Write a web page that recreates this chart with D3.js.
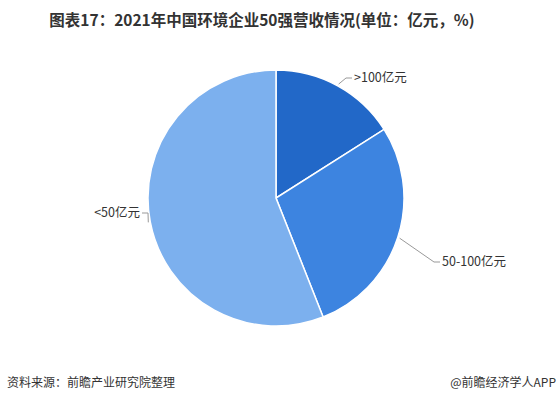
<!DOCTYPE html>
<html>
<head>
<meta charset="utf-8">
<script src="https://cdn.jsdelivr.net/npm/d3@7"></script>
<style>
  body { margin: 0; background: #fff; }
  text { font-family: "Noto Sans CJK SC", "Noto Sans", sans-serif; }
</style>
</head>
<body>
<div id="viz"></div>
<script>
const categories = ['>100亿元', '50-100亿元', '<50亿元'];
const values = [8, 14, 28];
const colors = ['#2268c8', '#3d84e0', '#7cb0ee'];

const width = 558, height = 405;
const cx = 276, cy = 198, radius = 128;

const svg = d3.select('#viz')
    .append('svg')
    .attr('width', width)
    .attr('height', height);

svg.append('text')
    .attr('x', 262)
    .attr('y', 26)
    .attr('text-anchor', 'middle')
    .style('font-size', '15.5px')
    .style('font-weight', 'bold')
    .style('fill', '#333')
    .text('图表17：2021年中国环境企业50强营收情况(单位：亿元，%)');

const data = categories.map((c, i) => ({name: c, value: values[i], color: colors[i]}));

const pie = d3.pie().sort(null).value(d => d.value);
const arc = d3.arc().innerRadius(0).outerRadius(radius);
const arcs = pie(data);

const g = svg.append('g').attr('transform', `translate(${cx},${cy})`);

g.selectAll('path')
    .data(arcs)
    .join('path')
    .attr('d', arc)
    .style('fill', d => d.data.color)
    .style('stroke', '#fff')
    .style('stroke-width', 1.5);

// leader lines + labels
const outer = d3.arc().innerRadius(radius + 2).outerRadius(radius + 2);
const labelPos = [
    {bend: [70, -120], end: [76, -120], anchor: 'start'},
    {bend: [158, 64], end: [164, 64], anchor: 'start'},
    {bend: [-128, 15], end: [-134, 15], anchor: 'end'}
];

arcs.forEach((a, i) => {
    const p0 = outer.centroid(a);
    const lp = labelPos[i];
    g.append('polyline')
        .attr('points', [p0, lp.bend, lp.end].map(p => p.join(',')).join(' '))
        .style('fill', 'none')
        .style('stroke', '#999')
        .style('stroke-width', 1);
    g.append('text')
        .attr('x', lp.end[0] + (lp.anchor === 'start' ? 2 : -2))
        .attr('y', lp.end[1])
        .attr('dy', '0.35em')
        .attr('text-anchor', lp.anchor)
        .style('font-size', '12.5px')
        .style('fill', '#333')
        .text(a.data.name);
});

svg.append('text')
    .attr('x', 7)
    .attr('y', 387)
    .style('font-size', '12px')
    .style('fill', '#333')
    .text('资料来源：前瞻产业研究院整理');

svg.append('text')
    .attr('x', 556)
    .attr('y', 387)
    .attr('text-anchor', 'end')
    .style('font-size', '12px')
    .style('fill', '#333')
    .text('@前瞻经济学人APP');
</script>
</body>
</html>
